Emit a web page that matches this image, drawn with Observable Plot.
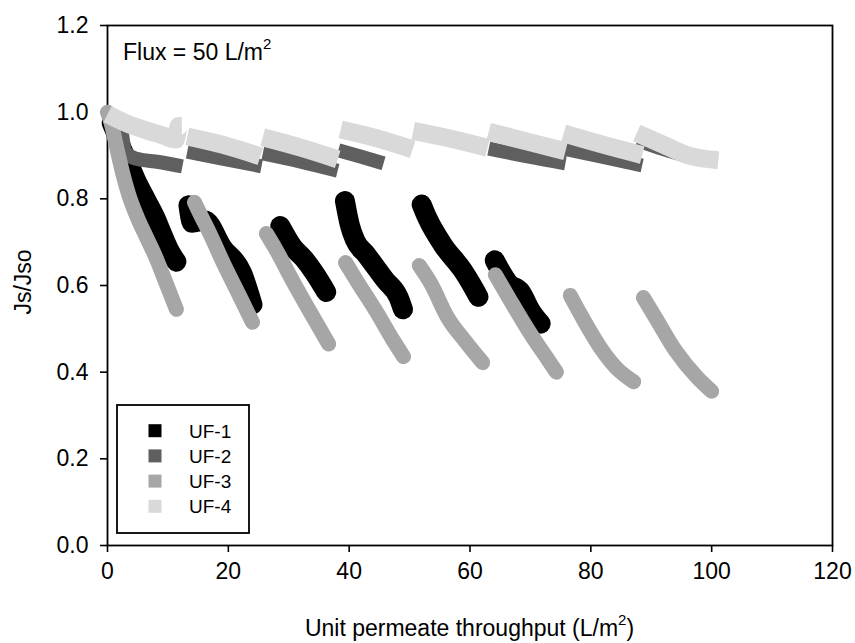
<!DOCTYPE html>
<html><head><meta charset="utf-8">
<script src="https://cdn.jsdelivr.net/npm/d3@7"></script>
<script src="https://cdn.jsdelivr.net/npm/@observablehq/plot@0.6"></script>
<style>
body{margin:0;background:#fff;}
#chart{position:relative;width:855px;height:643px;}
</style></head><body><div id="chart"></div>
<script>
// ---- data ----
const seriesNames = ["UF-1", "UF-2", "UF-3", "UF-4"];
const seriesColors = ["#000000", "#5f5f5f", "#a6a6a6", "#d9d9d9"];
const xTicks = [0, 20, 40, 60, 80, 100, 120];
const yTicks = [0, 0.2, 0.4, 0.6, 0.8, 1.0, 1.2];
const fluxLabel = "Flux = 50 L/m";
const xTitle = "Unit permeate throughput (L/m";
const yTitle = "Js/Jso";

// each cycle: [throughput, Js/Jso]
const uf1Cycles = [
  [[0.7,0.975],[1.6,0.945],[2.4,0.915],[3.3,0.889],[5.0,0.835],[6.5,0.795],[7.9,0.757],[9.0,0.72],[10.1,0.685],[11.4,0.655]],
  [[13.4,0.785],[14.0,0.745],[16.1,0.75],[19.0,0.688],[22.3,0.628],[24.0,0.556]],
  [[28.6,0.737],[30.7,0.688],[32.5,0.662],[34.3,0.628],[36.2,0.585]],
  [[39.3,0.795],[40.1,0.74],[41.0,0.704],[42.8,0.672],[46.0,0.612],[48.2,0.572],[48.9,0.545]],
  [[52.0,0.787],[52.9,0.757],[55.6,0.692],[58.8,0.635],[60.8,0.589],[61.4,0.574]],
  [[64.1,0.658],[64.8,0.64],[66.4,0.605],[68.4,0.585],[70.0,0.543],[71.7,0.512]]
];
const uf2Cycles = [
  [[0,1.0],[2.3,0.955],[2.9,0.91],[4.6,0.893],[8.5,0.885],[12.4,0.875]],
  [[13.2,0.909],[19.0,0.893],[25.5,0.875]],
  [[25.7,0.905],[32.0,0.886],[38.1,0.865]],
  [[38.2,0.912],[42.0,0.897],[45.7,0.882]],
  [[63.1,0.916],[69.5,0.898],[75.8,0.882]],
  [[75.5,0.916],[82.0,0.897],[88.5,0.877]],
  [[87.7,0.935],[92.0,0.915],[96.2,0.898]]
];
const uf3Cycles = [
  [[0,1.0],[0.6,0.975],[1.5,0.92],[2.5,0.86],[3.5,0.81],[5.0,0.755],[6.5,0.71],[8.0,0.665],[9.7,0.605],[11.4,0.545]],
  [[14.4,0.792],[15.5,0.76],[16.7,0.727],[19.2,0.651],[22.0,0.572],[24.0,0.515]],
  [[26.3,0.72],[27.8,0.685],[30.6,0.612],[33.5,0.54],[36.6,0.465]],
  [[39.4,0.653],[41.2,0.612],[44.7,0.535],[47.0,0.48],[49.0,0.436]],
  [[51.6,0.646],[53.5,0.605],[56.3,0.526],[59.3,0.47],[62.1,0.422]],
  [[64.2,0.625],[66.7,0.565],[70.0,0.489],[73.0,0.427],[74.3,0.40]],
  [[76.6,0.577],[78.6,0.526],[81.9,0.45],[84.2,0.41],[87.1,0.378]],
  [[88.7,0.572],[90.7,0.526],[94.0,0.45],[97.6,0.388],[100.0,0.356]]
];
const uf4Cycles = [
  [[0,0.995],[3,0.975],[6,0.96],[9,0.947],[11.3,0.937],[11.8,0.968],[12.3,0.968]],
  [[13.2,0.944],[19.0,0.925],[25.3,0.898]],
  [[25.7,0.942],[32.0,0.918],[38.1,0.891]],
  [[38.6,0.96],[44.5,0.94],[50.5,0.914]],
  [[50.6,0.957],[56.5,0.94],[62.9,0.918]],
  [[63.1,0.955],[69.5,0.932],[75.8,0.91]],
  [[75.5,0.951],[82.0,0.925],[88.5,0.901]],
  [[87.6,0.952],[92.0,0.925],[96.2,0.90],[101.1,0.889]]
];
const allCycles = [uf1Cycles, uf2Cycles, uf3Cycles, uf4Cycles];

// ---- styling (not data) ----
const bandWidth = [20, 14, 15, 18];
const bandCap = ["round", "butt", "round", "butt"];
const FONT = "'Liberation Sans', Arial, sans-serif";

function rows(name, cycles) {
  return cycles.flatMap((c, i) => c.map(([x, y]) => ({series: name, cycle: name + "#" + i, x, y})));
}

const lineMarks = seriesNames.map((name, i) =>
  Plot.line(rows(name, allCycles[i]), {
    x: "x", y: "y", z: "cycle",
    stroke: seriesColors[i],
    strokeWidth: bandWidth[i],
    strokeLinecap: bandCap[i],
    strokeLinejoin: "round",
    curve: "monotone-x"
  })
);

const svg = Plot.plot({
  width: 855, height: 643,
  marginLeft: 107, marginRight: 23, marginTop: 25, marginBottom: 98,
  style: {fontFamily: FONT, fontSize: "23px", color: "black", background: "white"},
  x: {domain: [0, 120], label: null},
  y: {domain: [0, 1.2], label: null},
  marks: [
    Plot.frame({stroke: "black", strokeWidth: 1.8}),
    Plot.axisX({ticks: xTicks, tickSize: 7, tickPadding: 10, strokeWidth: 1.6, tickFormat: d => String(d), label: null}),
    Plot.axisY({ticks: yTicks, tickSize: 7, tickPadding: 12, strokeWidth: 1.6, tickFormat: d3.format(".1f"), label: null}),
    ...lineMarks
  ]
});

const s = d3.select(svg);
// annotation
const flux = s.append("text").attr("x", 123).attr("y", 60).attr("text-anchor", "start")
  .attr("font-family", FONT).attr("font-size", 23).attr("fill", "black");
flux.append("tspan").text(fluxLabel);
flux.append("tspan").attr("font-size", 15).attr("dy", -11).text("2");

// x title
const xt = s.append("text").attr("x", 469.5).attr("y", 636).attr("text-anchor", "middle")
  .attr("font-family", FONT).attr("font-size", 23).attr("fill", "black");
xt.append("tspan").text(xTitle);
xt.append("tspan").attr("font-size", 15).attr("dy", -11).text("2");
xt.append("tspan").attr("dy", 11).text(")");

// y title
s.append("text").attr("transform", "translate(31,282) rotate(-90)").attr("text-anchor", "middle")
  .attr("font-family", FONT).attr("font-size", 23).attr("fill", "black").text(yTitle);

// legend
const lg = s.append("g");
lg.append("rect").attr("x", 117).attr("y", 405).attr("width", 132).attr("height", 128)
  .attr("fill", "white").attr("stroke", "black").attr("stroke-width", 1.8);
seriesNames.forEach((name, i) => {
  const cy = 430.7 + i * 25.2;
  lg.append("rect").attr("x", 148.5).attr("y", cy - 6.5).attr("width", 13).attr("height", 13)
    .attr("fill", seriesColors[i]);
  lg.append("text").attr("x", 189).attr("y", cy + 6.8).attr("text-anchor", "start")
    .attr("font-family", FONT).attr("font-size", 19).attr("fill", "black").text(name);
});

document.getElementById("chart").appendChild(svg);
</script>
</body></html>
